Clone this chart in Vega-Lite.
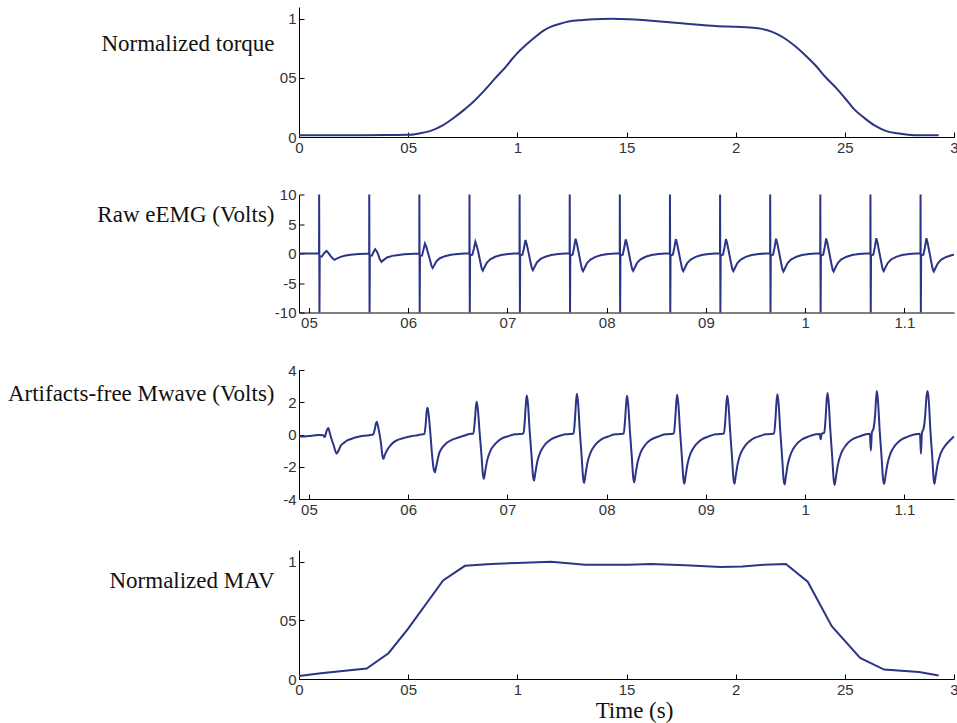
{
  "$schema": "https://vega.github.io/schema/vega-lite/v6.json",
  "padding": {"left": 7, "top": 7, "right": 0, "bottom": 4},
  "datasets": {
    "torque": [
      {"t":0,"v":0.015},{"t":0.1,"v":0.015},{"t":0.2,"v":0.015},{"t":0.3,"v":0.015},{"t":0.4,"v":0.016},{"t":0.5,"v":0.018},
      {"t":0.55,"v":0.03},{"t":0.6,"v":0.05},{"t":0.66,"v":0.1},{"t":0.7,"v":0.15},{"t":0.76,"v":0.236},{"t":0.8,"v":0.3},
      {"t":0.857,"v":0.41},{"t":0.9,"v":0.5},{"t":0.95,"v":0.6},{"t":0.976,"v":0.66},{"t":1.0,"v":0.71},{"t":1.04,"v":0.78},
      {"t":1.075,"v":0.835},{"t":1.12,"v":0.9},{"t":1.155,"v":0.934},{"t":1.2,"v":0.96},{"t":1.234,"v":0.977},{"t":1.3,"v":0.99},
      {"t":1.353,"v":0.997},{"t":1.43,"v":1.0},{"t":1.512,"v":0.997},{"t":1.6,"v":0.985},{"t":1.71,"v":0.969},{"t":1.8,"v":0.955},
      {"t":1.909,"v":0.94},{"t":2.0,"v":0.932},{"t":2.067,"v":0.926},{"t":2.12,"v":0.915},{"t":2.167,"v":0.89},{"t":2.22,"v":0.84},
      {"t":2.266,"v":0.778},{"t":2.32,"v":0.69},{"t":2.365,"v":0.607},{"t":2.41,"v":0.51},{"t":2.464,"v":0.407},{"t":2.5,"v":0.33},
      {"t":2.54,"v":0.24},{"t":2.59,"v":0.16},{"t":2.64,"v":0.094},{"t":2.69,"v":0.05},{"t":2.74,"v":0.031},{"t":2.79,"v":0.02},
      {"t":2.84,"v":0.015},{"t":2.93,"v":0.015}
    ],
    "mav": [
      {"t":0,"v":0.025},{"t":0.1,"v":0.05},{"t":0.31,"v":0.09},{"t":0.41,"v":0.22},{"t":0.5,"v":0.43},{"t":0.66,"v":0.84},
      {"t":0.76,"v":0.965},{"t":0.88,"v":0.98},{"t":1.0,"v":0.99},{"t":1.155,"v":1.0},{"t":1.31,"v":0.975},{"t":1.51,"v":0.975},
      {"t":1.61,"v":0.98},{"t":1.77,"v":0.97},{"t":1.93,"v":0.955},{"t":2.03,"v":0.96},{"t":2.13,"v":0.975},{"t":2.23,"v":0.98},
      {"t":2.33,"v":0.83},{"t":2.44,"v":0.45},{"t":2.57,"v":0.18},{"t":2.68,"v":0.08},{"t":2.84,"v":0.06},{"t":2.93,"v":0.03}
    ],
    "raw": [
      {"t":0.4899,"v":0},{"t":0.51,"v":0},
      {"t":0.5102,"v":0},{"t":0.5103,"v":10},{"t":0.5106,"v":-10},{"t":0.5109,"v":-0.5},{"t":0.513,"v":-0.5},{"t":0.5155,"v":0.1},
      {"t":0.5178,"v":0.44},{"t":0.5195,"v":0.1},{"t":0.5218,"v":-0.4},{"t":0.524,"v":-0.85},{"t":0.5259,"v":-1.08},{"t":0.528,"v":-0.85},
      {"t":0.5319,"v":-0.57},{"t":0.537,"v":-0.35},{"t":0.542,"v":-0.23},{"t":0.55,"v":-0.1},{"t":0.557,"v":-0.04},
      {"t":0.5605,"v":-0.02},{"t":0.5607,"v":-0.02},{"t":0.5608,"v":10},{"t":0.5611,"v":-10},{"t":0.5614,"v":-0.4},{"t":0.5635,"v":-0.35},
      {"t":0.5652,"v":0.3},{"t":0.5667,"v":0.73},{"t":0.568,"v":0.45},{"t":0.5697,"v":-0.1},{"t":0.5712,"v":-0.9},{"t":0.5731,"v":-1.42},
      {"t":0.5745,"v":-1.2},{"t":0.5787,"v":-0.68},{"t":0.584,"v":-0.4},{"t":0.5887,"v":-0.28},{"t":0.596,"v":-0.12},{"t":0.6057,"v":-0.04},
      {"t":0.611,"v":-0.02},{"t":0.6112,"v":-0.02},{"t":0.6113,"v":10},{"t":0.6116,"v":-10},{"t":0.6119,"v":-0.4},{"t":0.614,"v":-0.35},
      {"t":0.6155,"v":0.7},{"t":0.6169,"v":1.69},{"t":0.6182,"v":1.2},{"t":0.62,"v":0.1},{"t":0.6222,"v":-1.24},{"t":0.6237,"v":-2.2},
      {"t":0.6247,"v":-2.48},{"t":0.626,"v":-2.1},{"t":0.6285,"v":-1.3},{"t":0.632,"v":-0.8},{"t":0.637,"v":-0.45},{"t":0.643,"v":-0.2},
      {"t":0.65,"v":-0.07},{"t":0.657,"v":-0.01},
      {"t":0.6617,"v":0},{"t":0.6618,"v":10},{"t":0.6621,"v":-10},{"t":0.6624,"v":-0.3},{"t":0.6647,"v":-0.2},{"t":0.6662,"v":0.8},
      {"t":0.6677,"v":2.0},{"t":0.6689,"v":1.4},{"t":0.6707,"v":0.2},{"t":0.6727,"v":-1.45},{"t":0.6742,"v":-2.61},{"t":0.6752,"v":-2.9},
      {"t":0.6765,"v":-2.47},{"t":0.6792,"v":-1.57},{"t":0.6827,"v":-0.99},{"t":0.6877,"v":-0.55},{"t":0.6937,"v":-0.26},{"t":0.7007,"v":-0.09},{"t":0.7077,"v":0},
      {"t":0.7122,"v":0},{"t":0.7123,"v":10},{"t":0.7126,"v":-10},{"t":0.7129,"v":-0.3},{"t":0.7152,"v":-0.2},{"t":0.7167,"v":0.92},
      {"t":0.7182,"v":2.3},{"t":0.7194,"v":1.61},{"t":0.7212,"v":0.23},{"t":0.7232,"v":-1.41},{"t":0.7247,"v":-2.54},{"t":0.7257,"v":-2.82},
      {"t":0.727,"v":-2.4},{"t":0.7297,"v":-1.52},{"t":0.7332,"v":-0.96},{"t":0.7382,"v":-0.54},{"t":0.7442,"v":-0.25},{"t":0.7512,"v":-0.08},{"t":0.7582,"v":0},
      {"t":0.7627,"v":0},{"t":0.7628,"v":10},{"t":0.7631,"v":-10},{"t":0.7634,"v":-0.3},{"t":0.7657,"v":-0.2},{"t":0.7672,"v":1.0},
      {"t":0.7687,"v":2.5},{"t":0.7699,"v":1.75},{"t":0.7717,"v":0.25},{"t":0.7737,"v":-1.5},{"t":0.7752,"v":-2.7},{"t":0.7762,"v":-3.0},
      {"t":0.7775,"v":-2.55},{"t":0.7802,"v":-1.62},{"t":0.7837,"v":-1.02},{"t":0.7887,"v":-0.57},{"t":0.7947,"v":-0.27},{"t":0.8017,"v":-0.09},{"t":0.8087,"v":0},
      {"t":0.8132,"v":0},{"t":0.8133,"v":10},{"t":0.8136,"v":-10},{"t":0.8139,"v":-0.3},{"t":0.8162,"v":-0.2},{"t":0.8177,"v":0.96},
      {"t":0.8192,"v":2.4},{"t":0.8204,"v":1.68},{"t":0.8222,"v":0.24},{"t":0.8242,"v":-1.48},{"t":0.8257,"v":-2.66},{"t":0.8267,"v":-2.95},
      {"t":0.828,"v":-2.51},{"t":0.8307,"v":-1.59},{"t":0.8342,"v":-1.0},{"t":0.8392,"v":-0.56},{"t":0.8452,"v":-0.27},{"t":0.8522,"v":-0.09},{"t":0.8592,"v":0},
      {"t":0.8637,"v":0},{"t":0.8638,"v":10},{"t":0.8641,"v":-10},{"t":0.8644,"v":-0.3},{"t":0.8667,"v":-0.2},{"t":0.8682,"v":0.98},
      {"t":0.8697,"v":2.45},{"t":0.8709,"v":1.72},{"t":0.8727,"v":0.25},{"t":0.8747,"v":-1.5},{"t":0.8762,"v":-2.7},{"t":0.8772,"v":-3.0},
      {"t":0.8785,"v":-2.55},{"t":0.8812,"v":-1.62},{"t":0.8847,"v":-1.02},{"t":0.8897,"v":-0.57},{"t":0.8957,"v":-0.27},{"t":0.9027,"v":-0.09},{"t":0.9097,"v":0},
      {"t":0.9142,"v":0},{"t":0.9143,"v":10},{"t":0.9146,"v":-10},{"t":0.9149,"v":-0.3},{"t":0.9172,"v":-0.2},{"t":0.9187,"v":0.98},
      {"t":0.9202,"v":2.45},{"t":0.9214,"v":1.72},{"t":0.9232,"v":0.25},{"t":0.9252,"v":-1.5},{"t":0.9267,"v":-2.7},{"t":0.9277,"v":-3.0},
      {"t":0.929,"v":-2.55},{"t":0.9317,"v":-1.62},{"t":0.9352,"v":-1.02},{"t":0.9402,"v":-0.57},{"t":0.9462,"v":-0.27},{"t":0.9532,"v":-0.09},{"t":0.9602,"v":0},
      {"t":0.9647,"v":0},{"t":0.9648,"v":10},{"t":0.9651,"v":-10},{"t":0.9654,"v":-0.3},{"t":0.9677,"v":-0.2},{"t":0.9692,"v":1.0},
      {"t":0.9707,"v":2.5},{"t":0.9719,"v":1.75},{"t":0.9737,"v":0.25},{"t":0.9757,"v":-1.53},{"t":0.9772,"v":-2.75},{"t":0.9782,"v":-3.05},
      {"t":0.9795,"v":-2.59},{"t":0.9822,"v":-1.65},{"t":0.9857,"v":-1.04},{"t":0.9907,"v":-0.58},{"t":0.9967,"v":-0.27},{"t":1.0037,"v":-0.09},{"t":1.0107,"v":0},
      {"t":1.0152,"v":0},{"t":1.0153,"v":10},{"t":1.0156,"v":-10},{"t":1.0159,"v":-0.3},{"t":1.0182,"v":-0.2},{"t":1.0197,"v":1.02},
      {"t":1.0212,"v":2.55},{"t":1.0224,"v":1.79},{"t":1.0242,"v":0.26},{"t":1.0262,"v":-1.53},{"t":1.0277,"v":-2.75},{"t":1.0287,"v":-3.05},
      {"t":1.03,"v":-2.59},{"t":1.0327,"v":-1.65},{"t":1.0362,"v":-1.04},{"t":1.0412,"v":-0.58},{"t":1.0472,"v":-0.27},{"t":1.0542,"v":-0.09},{"t":1.0612,"v":0},
      {"t":1.0657,"v":0},{"t":1.0658,"v":10},{"t":1.0661,"v":-10},{"t":1.0664,"v":-0.3},{"t":1.0687,"v":-0.2},{"t":1.0702,"v":1.03},
      {"t":1.0717,"v":2.58},{"t":1.0729,"v":1.81},{"t":1.0747,"v":0.26},{"t":1.0767,"v":-1.49},{"t":1.0782,"v":-2.68},{"t":1.0792,"v":-2.98},
      {"t":1.0805,"v":-2.53},{"t":1.0832,"v":-1.61},{"t":1.0867,"v":-1.01},{"t":1.0917,"v":-0.57},{"t":1.0977,"v":-0.27},{"t":1.1047,"v":-0.09},{"t":1.1117,"v":0},
      {"t":1.1162,"v":0},{"t":1.1163,"v":10},{"t":1.1166,"v":-10},{"t":1.1169,"v":-0.3},{"t":1.1192,"v":-0.2},{"t":1.1207,"v":1.03},
      {"t":1.1222,"v":2.58},{"t":1.1234,"v":1.81},{"t":1.1252,"v":0.26},{"t":1.1272,"v":-1.53},{"t":1.1287,"v":-2.75},{"t":1.1297,"v":-3.05},
      {"t":1.131,"v":-2.59},{"t":1.1337,"v":-1.65},{"t":1.1372,"v":-1.04},{"t":1.1422,"v":-0.58},{"t":1.1482,"v":-0.27},{"t":1.1499,"v":-0.22}
    ],
    "clean": [
      {"t":0.4899,"v":-0.13},{"t":0.495,"v":-0.12},{"t":0.5,"v":-0.1},{"t":0.505,"v":-0.06},{"t":0.5102,"v":-0.03},
      {"t":0.5147,"v":-0.05},{"t":0.5158,"v":-0.16},{"t":0.5177,"v":0.2},{"t":0.5195,"v":0.41},{"t":0.5212,"v":0.05},{"t":0.5229,"v":-0.31},
      {"t":0.5247,"v":-0.62},{"t":0.5279,"v":-1.18},{"t":0.5302,"v":-0.95},{"t":0.5319,"v":-0.72},{"t":0.5352,"v":-0.52},{"t":0.5387,"v":-0.37},
      {"t":0.5432,"v":-0.26},{"t":0.5488,"v":-0.16},{"t":0.5552,"v":-0.08},
      {"t":0.5607,"v":-0.04},{"t":0.5647,"v":0.0},{"t":0.5662,"v":0.28},{"t":0.5675,"v":0.67},{"t":0.5684,"v":0.79},{"t":0.5695,"v":0.55},
      {"t":0.5712,"v":0.0},{"t":0.5727,"v":-0.6},{"t":0.574,"v":-1.3},{"t":0.5751,"v":-1.51},{"t":0.5763,"v":-1.3},{"t":0.5791,"v":-0.93},
      {"t":0.5825,"v":-0.65},{"t":0.5859,"v":-0.46},{"t":0.591,"v":-0.3},{"t":0.596,"v":-0.21},{"t":0.603,"v":-0.11},{"t":0.6095,"v":-0.04},
      {"t":0.6112,"v":-0.02},{"t":0.6152,"v":0.02},{"t":0.6162,"v":0.04},{"t":0.6176,"v":0.6},{"t":0.6186,"v":1.4},{"t":0.6196,"v":1.66},
      {"t":0.6207,"v":1.2},{"t":0.6222,"v":0.2},{"t":0.624,"v":-1.2},{"t":0.6256,"v":-2.1},{"t":0.627,"v":-2.34},{"t":0.6282,"v":-2.0},
      {"t":0.6314,"v":-1.14},{"t":0.6345,"v":-0.8},{"t":0.6381,"v":-0.56},{"t":0.643,"v":-0.36},{"t":0.6499,"v":-0.2},{"t":0.657,"v":-0.06},
      {"t":0.6617,"v":0.03},{"t":0.6657,"v":0.06},{"t":0.667,"v":0.71},{"t":0.6683,"v":1.73},{"t":0.6691,"v":2.03},{"t":0.6703,"v":1.52},
      {"t":0.6719,"v":0.2},{"t":0.6738,"v":-1.23},{"t":0.6753,"v":-2.47},{"t":0.6763,"v":-2.74},{"t":0.6775,"v":-2.33},{"t":0.6797,"v":-1.59},
      {"t":0.6827,"v":-1.04},{"t":0.6877,"v":-0.58},{"t":0.6937,"v":-0.27},{"t":0.7007,"v":-0.11},{"t":0.7077,"v":0.01},
      {"t":0.7122,"v":0.03},{"t":0.7162,"v":0.06},{"t":0.7175,"v":0.85},{"t":0.7188,"v":2.06},{"t":0.7196,"v":2.42},{"t":0.7208,"v":1.82},
      {"t":0.7224,"v":0.24},{"t":0.7243,"v":-1.29},{"t":0.7258,"v":-2.57},{"t":0.7268,"v":-2.86},{"t":0.728,"v":-2.43},{"t":0.7302,"v":-1.66},
      {"t":0.7332,"v":-1.09},{"t":0.7382,"v":-0.6},{"t":0.7442,"v":-0.29},{"t":0.7512,"v":-0.11},{"t":0.7582,"v":0.01},
      {"t":0.7627,"v":0.03},{"t":0.7667,"v":0.06},{"t":0.768,"v":0.89},{"t":0.7693,"v":2.15},{"t":0.7701,"v":2.53},{"t":0.7713,"v":1.9},
      {"t":0.7729,"v":0.25},{"t":0.7748,"v":-1.35},{"t":0.7763,"v":-2.7},{"t":0.7773,"v":-3.0},{"t":0.7785,"v":-2.55},{"t":0.7807,"v":-1.74},
      {"t":0.7837,"v":-1.14},{"t":0.7887,"v":-0.63},{"t":0.7947,"v":-0.3},{"t":0.8017,"v":-0.12},{"t":0.8087,"v":0.01},
      {"t":0.8132,"v":0.03},{"t":0.8172,"v":0.06},{"t":0.8185,"v":0.84},{"t":0.8198,"v":2.04},{"t":0.8206,"v":2.4},{"t":0.8218,"v":1.8},
      {"t":0.8234,"v":0.24},{"t":0.8253,"v":-1.34},{"t":0.8268,"v":-2.67},{"t":0.8278,"v":-2.97},{"t":0.829,"v":-2.52},{"t":0.8312,"v":-1.72},
      {"t":0.8342,"v":-1.13},{"t":0.8392,"v":-0.62},{"t":0.8452,"v":-0.3},{"t":0.8522,"v":-0.12},{"t":0.8592,"v":0.01},
      {"t":0.8637,"v":0.03},{"t":0.8677,"v":0.06},{"t":0.869,"v":0.86},{"t":0.8703,"v":2.1},{"t":0.8711,"v":2.47},{"t":0.8723,"v":1.85},
      {"t":0.8739,"v":0.25},{"t":0.8758,"v":-1.37},{"t":0.8773,"v":-2.75},{"t":0.8783,"v":-3.05},{"t":0.8795,"v":-2.59},{"t":0.8817,"v":-1.77},
      {"t":0.8847,"v":-1.16},{"t":0.8897,"v":-0.64},{"t":0.8957,"v":-0.31},{"t":0.9027,"v":-0.12},{"t":0.9097,"v":0.01},
      {"t":0.9142,"v":0.03},{"t":0.9182,"v":0.06},{"t":0.9195,"v":0.84},{"t":0.9208,"v":2.04},{"t":0.9216,"v":2.4},{"t":0.9228,"v":1.8},
      {"t":0.9244,"v":0.24},{"t":0.9263,"v":-1.37},{"t":0.9278,"v":-2.75},{"t":0.9288,"v":-3.05},{"t":0.93,"v":-2.59},{"t":0.9322,"v":-1.77},
      {"t":0.9352,"v":-1.16},{"t":0.9402,"v":-0.64},{"t":0.9462,"v":-0.31},{"t":0.9532,"v":-0.12},{"t":0.9602,"v":0.01},
      {"t":0.9647,"v":0.03},{"t":0.9687,"v":0.06},{"t":0.97,"v":0.88},{"t":0.9713,"v":2.13},{"t":0.9721,"v":2.5},{"t":0.9733,"v":1.88},
      {"t":0.9749,"v":0.25},{"t":0.9768,"v":-1.4},{"t":0.9783,"v":-2.79},{"t":0.9793,"v":-3.1},{"t":0.9805,"v":-2.64},{"t":0.9827,"v":-1.8},
      {"t":0.9857,"v":-1.18},{"t":0.9907,"v":-0.65},{"t":0.9967,"v":-0.31},{"t":1.0037,"v":-0.12},{"t":1.0107,"v":0.01},
      {"t":1.0147,"v":0.03},{"t":1.0157,"v":-0.3},{"t":1.0167,"v":0.05},{"t":1.0192,"v":0.1},{"t":1.0205,"v":0.9},{"t":1.0218,"v":2.19},
      {"t":1.0226,"v":2.58},{"t":1.0238,"v":1.94},{"t":1.0254,"v":0.26},{"t":1.0273,"v":-1.41},{"t":1.0288,"v":-2.82},{"t":1.0298,"v":-3.13},
      {"t":1.031,"v":-2.66},{"t":1.0332,"v":-1.82},{"t":1.0362,"v":-1.19},{"t":1.0412,"v":-0.66},{"t":1.0472,"v":-0.31},{"t":1.0542,"v":-0.13},{"t":1.0612,"v":0.01},
      {"t":1.0652,"v":0.04},{"t":1.0662,"v":-1.0},{"t":1.0672,"v":0.1},{"t":1.069,"v":0.4},{"t":1.0705,"v":1.2},{"t":1.0716,"v":2.3},
      {"t":1.0723,"v":2.69},{"t":1.0735,"v":2.0},{"t":1.0751,"v":0.27},{"t":1.077,"v":-1.38},{"t":1.0785,"v":-2.75},{"t":1.0797,"v":-3.06},
      {"t":1.0809,"v":-2.6},{"t":1.0831,"v":-1.78},{"t":1.0861,"v":-1.16},{"t":1.0911,"v":-0.64},{"t":1.0971,"v":-0.31},{"t":1.1041,"v":-0.12},{"t":1.1111,"v":0.01},
      {"t":1.1157,"v":0.04},{"t":1.1167,"v":-1.2},{"t":1.1177,"v":0.1},{"t":1.1195,"v":0.4},{"t":1.121,"v":1.2},{"t":1.1222,"v":2.3},
      {"t":1.1235,"v":2.69},{"t":1.1247,"v":2.0},{"t":1.1262,"v":0.27},{"t":1.1281,"v":-1.38},{"t":1.1295,"v":-2.75},{"t":1.1303,"v":-3.06},
      {"t":1.1315,"v":-2.6},{"t":1.1337,"v":-1.78},{"t":1.1367,"v":-1.16},{"t":1.1417,"v":-0.64},{"t":1.145,"v":-0.42},{"t":1.1499,"v":-0.12}
    ]
  },
  "config": {
    "view": {"stroke": null},
    "axis": {
      "grid": false,
      "domainColor": "#000000",
      "domainWidth": 1,
      "tickColor": "#000000",
      "tickWidth": 1,
      "tickSize": -5,
      "labelPadding": 8,
      "labelFlush": false,
      "labelFont": "Liberation Sans",
      "labelFontSize": 15,
      "labelColor": "#333333",
      "titleFont": "Liberation Serif",
      "titleFontSize": 23,
      "titleFontWeight": "normal",
      "titleColor": "#111111"
    },
    "line": {"color": "#2c3486", "strokeWidth": 2, "clip": true}
  },
  "bounds": "flush",
  "spacing": 57.5,
  "vconcat": [
    {
      "width": 655, "height": 130,
      "data": {"name": "torque"},
      "mark": {"type": "line", "interpolate": "monotone"},
      "encoding": {
        "x": {"field": "t", "type": "quantitative", "scale": {"domain": [0, 3], "nice": false},
              "axis": {"values": [0, 0.5, 1, 1.5, 2, 2.5, 3], "labelExpr": "replace('' + datum.value, '.', '')", "title": null}},
        "y": {"field": "v", "type": "quantitative", "scale": {"domain": [0, 1.1], "nice": false, "zero": false},
              "axis": {"values": [0, 0.5, 1], "labelExpr": "replace('' + datum.value, '.', '')", "title": "Normalized torque",
                       "titleAngle": 0, "titleAlign": "right", "titleBaseline": "middle", "titleX": -25, "titleY": 36}}
      }
    },
    {
      "width": 655, "height": 118,
      "data": {"name": "raw"},
      "mark": {"type": "line"},
      "encoding": {
        "x": {"field": "t", "type": "quantitative", "scale": {"domain": [0.49, 1.15], "nice": false, "zero": false},
              "axis": {"values": [0.5, 0.6, 0.7, 0.8, 0.9, 1, 1.1], "labelExpr": "datum.value > 1.05 ? '1.1' : replace('' + datum.value, '.', '')", "title": null}},
        "y": {"field": "v", "type": "quantitative", "scale": {"domain": [-10, 10], "nice": false},
              "axis": {"values": [-10, -5, 0, 5, 10], "labelExpr": "'' + datum.value", "title": "Raw eEMG (Volts)",
                       "titleAngle": 0, "titleAlign": "right", "titleBaseline": "middle", "titleX": -25, "titleY": 20}}
      }
    },
    {
      "bounds": "flush",
      "spacing": 51,
      "vconcat": [
        {
          "width": 655, "height": 129,
          "data": {"name": "clean"},
          "mark": {"type": "line", "interpolate": "monotone"},
          "encoding": {
            "x": {"field": "t", "type": "quantitative", "scale": {"domain": [0.49, 1.15], "nice": false, "zero": false},
                  "axis": {"values": [0.5, 0.6, 0.7, 0.8, 0.9, 1, 1.1], "labelExpr": "datum.value > 1.05 ? '1.1' : replace('' + datum.value, '.', '')", "title": null}},
            "y": {"field": "v", "type": "quantitative", "scale": {"domain": [-4, 4], "nice": false},
                  "axis": {"values": [-4, -2, 0, 2, 4], "labelExpr": "'' + datum.value", "title": "Artifacts-free Mwave (Volts)",
                           "titleAngle": 0, "titleAlign": "right", "titleBaseline": "middle", "titleX": -25, "titleY": 23}}
          }
        },
        {
          "width": 655, "height": 129,
          "data": {"name": "mav"},
          "mark": {"type": "line"},
          "encoding": {
            "x": {"field": "t", "type": "quantitative", "scale": {"domain": [0, 3], "nice": false},
                  "axis": {"values": [0, 0.5, 1, 1.5, 2, 2.5, 3], "labelExpr": "replace('' + datum.value, '.', '')", "title": "Time (s)", "titlePadding": 2, "titleX": 335}},
            "y": {"field": "v", "type": "quantitative", "scale": {"domain": [0, 1.1], "nice": false, "zero": false},
                  "axis": {"values": [0, 0.5, 1], "labelExpr": "replace('' + datum.value, '.', '')", "title": "Normalized MAV",
                           "titleAngle": 0, "titleAlign": "right", "titleBaseline": "middle", "titleX": -25, "titleY": 30}}
          }
        }
      ]
    }
  ]
}
